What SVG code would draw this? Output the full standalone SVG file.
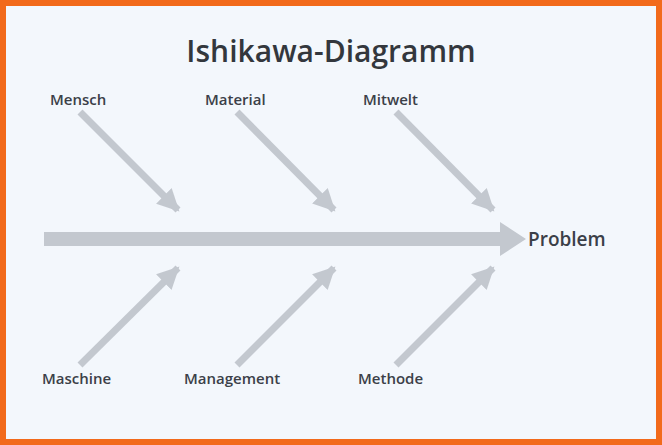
<svg xmlns="http://www.w3.org/2000/svg" width="662" height="445" viewBox="0 0 662 445">
<style>
.lbl{font-family:"Open Sans","Liberation Sans",sans-serif;font-size:15px;font-weight:600;fill:#3b4048}
.bone{stroke:#c3c8cf;stroke-width:7;fill:none;marker-end:url(#ah)}
</style>
<defs>
<marker id="ah" markerUnits="userSpaceOnUse" markerWidth="26" markerHeight="26" refX="20" refY="13" orient="auto">
<path d="M0,2 L22,13 L0,24 Z" fill="#c3c8cf"/>
</marker>
</defs>
<rect x="3" y="3" width="656" height="439" fill="#f3f7fc" stroke="#f26a1b" stroke-width="6"/>
<text x="331" y="62" text-anchor="middle" font-family="Open Sans,Liberation Sans,sans-serif" font-size="30" font-weight="600" fill="#33373d">Ishikawa-Diagramm</text>
<g id="connectors">
<path d="M44,232 H500 V222 L526,239 L500,256 V246 H44 Z" fill="#c3c8cf"/>
<line class="bone" x1="80" y1="112" x2="178" y2="210"/>
<line class="bone" x1="237" y1="112" x2="334" y2="210"/>
<line class="bone" x1="396" y1="112" x2="493" y2="210"/>
<line class="bone" x1="80" y1="365" x2="178" y2="268"/>
<line class="bone" x1="237" y1="365" x2="334" y2="268"/>
<line class="bone" x1="396" y1="365" x2="493" y2="268"/>
</g>
<g id="mensch"><text class="lbl" x="50" y="105">Mensch</text></g>
<g id="material"><text class="lbl" x="205" y="105">Material</text></g>
<g id="mitwelt"><text class="lbl" x="363" y="105">Mitwelt</text></g>
<g id="maschine"><text class="lbl" x="42" y="384">Maschine</text></g>
<g id="management"><text class="lbl" x="184" y="384">Management</text></g>
<g id="methode"><text class="lbl" x="358" y="384">Methode</text></g>
<g id="problem"><text class="lbl" x="528" y="246" style="font-size:19px">Problem</text></g>
</svg>
